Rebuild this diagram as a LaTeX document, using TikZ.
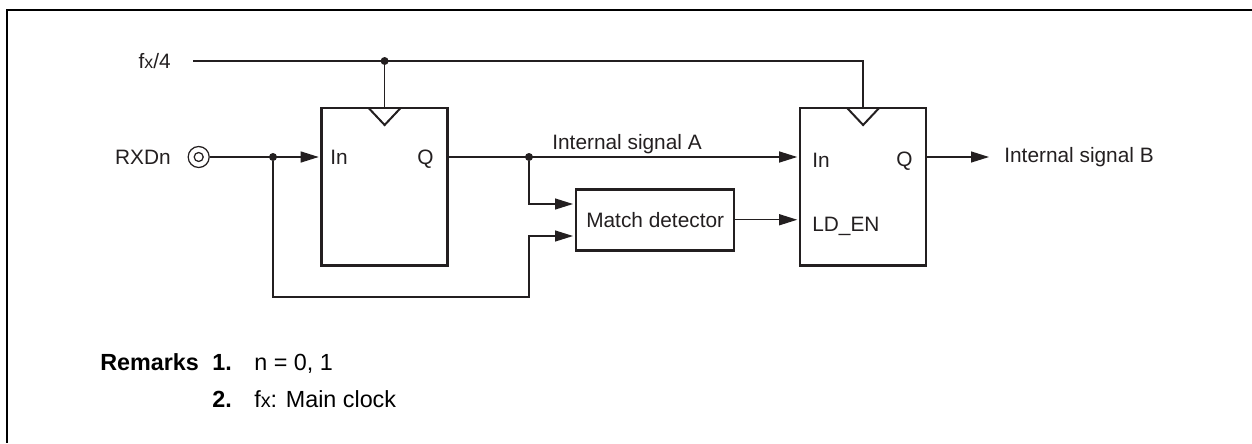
\documentclass[tikz,border=0pt]{standalone}
\usepackage{fontspec}
\setmainfont{Liberation Sans}
\usetikzlibrary{positioning,arrows.meta,calc}
\definecolor{cWire}{HTML}{231F20}
\tikzset{
  blk/.style={draw=cWire, line width=1.5pt, inner sep=0pt, outer sep=0pt, text=cWire},
  regb/.style={blk, minimum width=75.5pt, minimum height=94.5pt},
  detb/.style={blk, minimum width=94.8pt, minimum height=36.6pt, font=\fontsize{12.5pt}{15pt}\selectfont},
  lbl/.style={font=\fontsize{12.5pt}{15pt}\selectfont, text=cWire, inner sep=0pt},
  rem/.style={font=\fontsize{14pt}{17pt}\selectfont\bfseries, text=black, inner sep=0pt},
  remt/.style={font=\fontsize{14pt}{17pt}\selectfont, text=black, inner sep=0pt},
  wire/.style={draw=cWire, line width=0.75pt},
  ar/.style={wire, -{Stealth[length=10.8pt, width=6.6pt, inset=0pt]}, shorten >=1.8pt},
  dotn/.style={circle, fill=cWire, inner sep=0pt, minimum size=4.8pt},
  clk/.style={draw=cWire, line width=1.2pt, line join=miter},
  pinc/.style={circle, draw=cWire, line width=0.75pt, inner sep=0pt},
}
\newcommand{\fxclk}{f\scalebox{0.85}{x}}
\begin{document}
\begin{tikzpicture}[x=0.6pt, y=-0.6pt]
    \useasboundingbox (0,0) rectangle (1252,443);
    \draw[draw=black, line width=1.4pt] (1252,10) -- (7,10) -- (7,443);

    % registers and detector
    \node[regb, anchor=north west] (rega) at (321.7,108) {};
    \node[regb, right=211.6pt of rega] (regc) {};
    \node[detb, right=77.2pt of rega, yshift=-19.8pt] (det) {Match detector};
    \node[lbl, anchor=base west] (ina) at (330,164) {In};
    \node[lbl, anchor=base east] (qa) at (434,164) {Q};
    \node[lbl, anchor=base west] (inc) at (812,167) {In};
    \node[lbl, anchor=base east] (qc) at (913,166) {Q};
    \node[lbl, anchor=base west] (ldc) at (812,231) {LD\_EN};

    % signal names
    \node[lbl, anchor=base east] (fx) at (171,68) {\fxclk/4};
    \node[lbl, anchor=base east] (rxd) at (171,164) {RXDn};
    \node[lbl, anchor=base west] (siga) at (552,149) {Internal signal A};
    \node[lbl, anchor=base west] (sigb) at (1004,162) {Internal signal B};
    \node[pinc, minimum size=12.6pt] (pin) at (198.7,157) {};
    \node[pinc, minimum size=5.4pt] (pini) at (198.7,157) {};

    % remarks
    \node[rem, anchor=base west] (rmk) at (100,370) {Remarks};
    \node[rem, anchor=base west] (rone) at (212,370) {1.};
    \node[rem, anchor=base west] (rtwo) at (212,407) {2.};
    \node[remt, anchor=base west] (tone) at (254,370) {n = 0, 1};
    \node[remt, anchor=base west] (ttwo) at (254,407) {\fxclk: Main clock};

    % junctions and free ends
    \coordinate (fxs) at (193,61);
    \node[dotn] (jclk) at (rega.north |- fxs) {};
    \node[dotn] (jrxd) at (273,157) {};
    \node[dotn] (jq) at (529,157) {};
    \coordinate (lpa) at (273,297);
    \coordinate (lpb) at (529,297);
    \coordinate (outc) at (992,157);
    \coordinate (deta) at (576,204);
    \coordinate (detd) at (576,236);

    \draw[wire] (fxs) -| (regc.north);
    \draw[wire] (jclk) -- (rega.north);
    \draw[clk] ($(rega.north)+(-16,0)$) -- ($(rega.north)+(0,17)$) -- ($(rega.north)+(16,0)$);
    \draw[clk] ($(regc.north)+(-16,0)$) -- ($(regc.north)+(0,17)$) -- ($(regc.north)+(16,0)$);

    \draw[ar] (pin) -- (pin -| rega.west);
    \draw[ar] (jq -| rega.east) -- (jq -| regc.west);
    \draw[ar] (jq -| regc.east) -- (outc);
    \draw[ar] (det) -- (det -| regc.west);
    \draw[ar] (jq) |- (deta);
    \draw[ar] (jrxd) -- (lpa) -- (lpb) |- (detd);
\end{tikzpicture}
\end{document}
